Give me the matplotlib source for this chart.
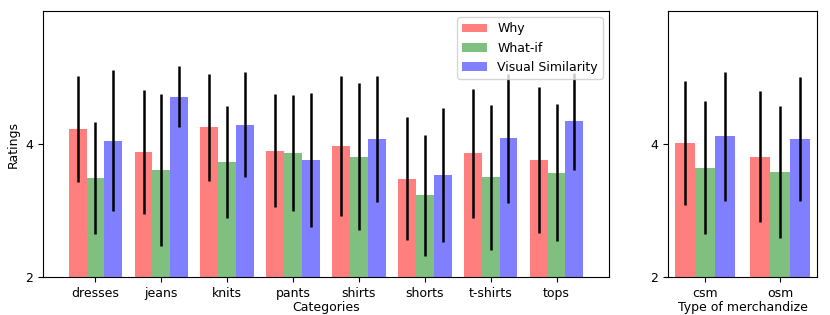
import numpy as np
import matplotlib
matplotlib.use("Agg")
import matplotlib.pyplot as plt

categories = ["dresses", "jeans", "knits", "pants", "shirts", "shorts", "t-shirts", "tops"]
why = [4.23, 3.88, 4.25, 3.90, 3.97, 3.48, 3.86, 3.76]
why_err = [0.80, 0.93, 0.80, 0.85, 1.05, 0.92, 0.97, 1.10]
whatif = [3.49, 3.61, 3.73, 3.86, 3.81, 3.23, 3.50, 3.57]
whatif_err = [0.84, 1.14, 0.84, 0.87, 1.10, 0.91, 1.09, 1.03]
visual = [4.05, 4.71, 4.29, 3.76, 4.08, 3.53, 4.09, 4.34]
visual_err = [1.06, 0.46, 0.79, 1.01, 0.95, 1.01, 0.97, 0.73]

merch = ["csm", "osm"]
m_why = [4.02, 3.81]
m_why_err = [0.93, 0.98]
m_whatif = [3.64, 3.58]
m_whatif_err = [1.00, 0.99]
m_visual = [4.12, 4.08]
m_visual_err = [0.97, 0.93]

plt.rcParams["font.size"] = 9
w = 0.27
ekw = dict(ecolor="black", elinewidth=1.8, capsize=0)

fig = plt.figure(figsize=(8.3, 3.15), dpi=100)
ax1 = fig.add_axes([43/830, 1 - 277/315, 566/830, 266/315])
ax2 = fig.add_axes([668/830, 1 - 277/315, 149/830, 266/315])

x = np.arange(len(categories))
ax1.bar(x - w, why, w, yerr=why_err, color="r", alpha=0.5, error_kw=ekw, label="Why")
ax1.bar(x, whatif, w, yerr=whatif_err, color="g", alpha=0.5, error_kw=ekw, label="What-if")
ax1.bar(x + w, visual, w, yerr=visual_err, color="b", alpha=0.5, error_kw=ekw, label="Visual Similarity")
ax1.set_xticks(x)
ax1.set_xticklabels(categories)
ax1.set_ylim(2, 6)
ax1.set_yticks([2, 4])
ax1.set_ylabel("Ratings")
ax1.set_xlabel("Categories", labelpad=1)
ax1.legend(loc="upper right")

xm = np.arange(len(merch))
ax2.bar(xm - w, m_why, w, yerr=m_why_err, color="r", alpha=0.5, error_kw=ekw)
ax2.bar(xm, m_whatif, w, yerr=m_whatif_err, color="g", alpha=0.5, error_kw=ekw)
ax2.bar(xm + w, m_visual, w, yerr=m_visual_err, color="b", alpha=0.5, error_kw=ekw)
ax2.set_xticks(xm)
ax2.set_xticklabels(merch)
ax2.set_ylim(2, 6)
ax2.set_yticks([2, 4])
ax2.set_xlabel("Type of merchandize", labelpad=1)

fig.savefig("out.png", dpi=100)
